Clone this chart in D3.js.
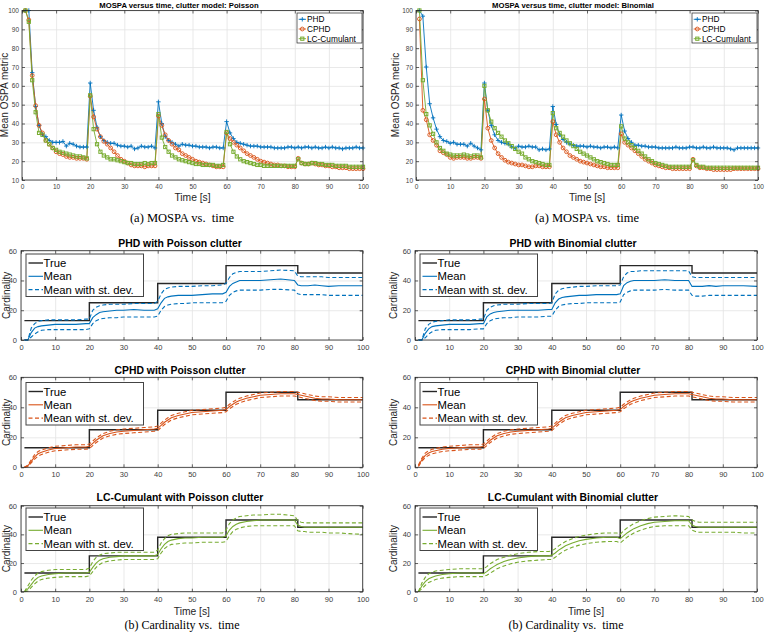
<!DOCTYPE html>
<html><head><meta charset="utf-8">
<script src="https://cdn.jsdelivr.net/npm/d3@7"></script>
<style>
html,body{margin:0;padding:0;background:#fff;}
svg{display:block;font-family:"Liberation Sans",Arial,Helvetica,sans-serif;}
</style></head><body>
<svg id="chart" width="768" height="632"></svg>
<script>
// ---------------- DATA ----------------
const mospaTime = d3.range(1, 101);
const mospaXTicks = [0,10,20,30,40,50,60,70,80,90,100];
const mospaYTicks = [10,20,30,40,50,60,70,80,90,100];
const mospaLegend = ["PHD","CPHD","LC-Cumulant"];

const mospaPoissonPHD = [
100,100,67,49,39,34,33,31,30,30,
30,30.5,28,29.5,29,28,27.5,27.5,27.5,61.5,
47,38,33,31,30,29.5,29.5,28.5,28,28,
27.5,28,26.5,27,28,27.5,27.5,28,27,51.5,
40,33,31,30,29,28,29,28.5,28.5,28,
28,27.5,27.5,27.5,27,27.5,27.5,27,27,41,
35,32,30,29.5,29,28.5,28,28,28,27.5,
27.5,27.5,27.5,27,27,27,27,27.5,27.5,27,
27.5,27,27.5,27.5,27,27.5,27,27,27.5,27,
27.5,27,27,26.5,27,27,27,27.5,27,27];
const mospaPoissonCPHD = [
100,95,65.5,49.5,39,35,31,29,27,25,
24,23.5,22.5,22,22,21.5,21.5,21.5,21,54.5,
43.5,37,33,30.5,29,27,25,23,21,20,
19,18,17.5,17.5,17.5,17,17.5,17.5,17.5,44,
39,34,31,29,27,26,24,23,22,21,
20,19.5,19,18.5,18,17.5,17,17,17,35,
32,30,28.5,27,25.5,24,23,22,21,20,
19.5,19,18.5,18,18,17.5,17.5,17,17,17,
21.5,19,18.5,18.5,19,18.5,18,18,17.5,17.5,
17,17,16.5,16.5,16.5,16,16,16,16,16];
const mospaPoissonLC = [
100,94,63,46,35,34,31,29,27,26,
25,24.5,24,23.5,23,22.5,22.5,22,21.5,55,
37,29,25,23,22,21,21,20.5,20,19.5,
19,19,18.5,18.5,18.5,19,18.5,19,19,45,
32.5,27.5,25,23,22,21,20.5,20,19.5,19,
18.5,18.5,18,18,18,18,17.5,17.5,18,35.5,
29,25,22.5,21,20,19.5,19,18.5,18,18,
17.5,17.5,17.5,17.5,17.5,17.5,17.5,17.5,17.5,17.5,
21,19,18.5,18.5,19,19,18.5,18.5,18,18,
18,17.5,17.5,17.5,17.5,17,17,17,17,17];
const mospaBinomialPHD = [
100,97,70,50.5,43,37,33,31,30.5,29.5,
30,29,29,29,28,29.5,28,27,26,61.5,
47,39,34,31,30,29.5,29,27.5,27,28,
27.5,27.5,28,27.5,27.5,26,26.5,26,26.5,49,
39.5,34,31.5,30,29,28.5,28,28,28,27.5,
28,27.5,27.5,27,27.5,27.5,27,27.5,27,44.5,
36,32,30,28.5,28.5,28,28,27.5,27.5,27.5,
27,27,27,27,27,27.5,27,27,27,27.5,
27.5,27,27,27.5,27,27,27.5,27,27,27,
27,26.5,26,27,27,27,27,27,27,27];
const mospaBinomialCPHD = [
95.5,47,42,34,31,28.5,25.5,24.5,23.5,22,
21.5,22,22,22,21.5,21.5,22,22,21.5,53,
37.5,31,27,24,22,20.5,19.5,19,18.5,18,
18,17.5,17,17,17.5,17.5,17,17,17,41,
34,30,27,25,23,22,21,20,19.5,19,
18.5,18,17.5,17,17,16.5,16.5,16.5,16.5,34.5,
30,28.5,27,25.5,24,22.5,21,20,19,18,
17.5,17,16.5,16.5,16,16,16,16,16,16,
21,17.5,16.5,16.5,16,16,15.5,15.5,15.5,15.5,
15.5,15.5,16,16,16,16,16,16,16,16];
const mospaBinomialLC = [
100,63,45,39,34.5,30,27,25.5,24,23.5,
23,23,23,23.5,23,22.5,23,23,22,60,
47,41,37.5,35,33,31,29.5,28,26.5,25,
24,22,21,20,19.5,19,18.5,18,18,45.5,
37.5,35,33,31,29.5,28,26.5,25,24,23,
22,21,20,19.5,19,18.5,18,18,18,38.5,
32,30,28.5,27,25.5,24,22.5,21,20,19,
18.5,18,17.5,17,17,17,17,17,17,17,
20.5,18,17,17,16.5,16.5,16.5,16.5,16.5,16.5,
16.5,16.5,16.5,16.5,16.5,16.5,16.5,16.5,16.5,16.5];

const cardTime = [1,2,3,4,5,6,8,10,13,16,19, 20,21,22,23,24,26,28,30,33,36,39,
  40,41,42,43,44,46,48,50,53,56,59, 60,61,62,63,64,66,68,70,73,76,80,
  81,82,83,84,86,88,90,93,96,100];
const cardXTicks = [0,10,20,30,40,50,60,70,80,90,100];
const cardYTicks = [0,20,40,60];
const cardLegend = ["True","Mean","Mean with st. dev."];
const trueTime = [1,20,40,60,81,100];
const trueCard = [13,25,38,50,45,45];

const phdPoissonMean = [0,0,5,8,9,9.5,10,10.5,10.5,10.5,11, 11,15,17,18.5,19,19.5,20,20,20.5,20,20,
  21,25,28,29,29.5,30,30,30,30.5,31,31, 32,36,38,39,40,40,40,40,40.5,41,40,
  37,36.5,36.5,36.5,37,36.5,36,36.5,36.5,36.5];
const phdPoissonUpper = [0,0,8,11,12.5,13,13.5,13.5,13.5,13.5,14, 14,20,22,23,23.5,24,24,24,24.5,24.5,24.5,
  26,31,34,35,35.5,36,36,36,36.5,36.5,37, 38,42,44.5,45.5,46,46,46,46,46.5,47,46.5,
  43,42.5,42.5,42.5,42.5,42.5,42,42,42,42];
const phdPoissonLower = [0,0,2,4,5.5,6.5,7,7,7,7,7, 7.5,11,13,14,14.5,15,15,15.5,15.5,15.5,15.5,
  16,20,22.5,23.5,24,24.5,24.5,25,25,25,25, 26,30,32,33,33.5,33.5,33.5,33.5,34,34,33.5,
  31,30.5,30.5,30.5,30.5,30.5,30,30,30,30];

const phdBinomialMean = [0,0,4.5,7.5,9,9.5,10,10.5,10.5,10.5,11, 11,15.5,17.5,18.5,19,19.5,20,20,20,20,20.5,
  20.5,25,27.5,28.5,29,29.5,30,30,30.5,30.5,30.5, 31,36.5,38.5,39.5,40,40,40,40,40.5,40,40,
  36,36,36,36,36.5,36,36.5,36.5,36.5,36];
const phdBinomialUpper = [0,0,7.5,10.5,12,12.5,13,13.5,13.5,13.5,14, 14,20,22,23,23.5,24,24,24,24.5,24.5,24.5,
  25,31,33.5,34.5,35,35.5,36,36,36.5,36.5,36.5, 37,42.5,45,46,46,46.5,46.5,46.5,46.5,46.5,46.5,
  42.5,42,42,42,42,42,42,42,42,42];
const phdBinomialLower = [0,0,1.5,4,5.5,6.5,7,7,7,7,7.5, 7.5,11,13,14,14.5,15,15,15.5,15.5,15.5,16,
  16,20,22.5,23.5,24,24.5,24.5,25,25,25,25, 25.5,30.5,32,33,33.5,33.5,33.5,33.5,34,33.5,33.5,
  30,29.5,29.5,29.5,30,30,30,30,30,30];

const cphdPoissonMean = [0,1,4,7,9,10,11.5,12.5,13,13.5,13.5, 14,16,18,19.5,21,22.5,23.5,24,24.5,25,25.5,
  26,28,30,31.5,33,34.5,35.5,36.5,37,37.5,38, 38.5,40.5,42,43.5,44.5,46,47,48,48.5,49,49,
  48.5,48,47.5,47,46,45.5,45.5,45,45,45];
const cphdPoissonUpper = [0,1.5,5,8.5,10.5,11.5,13,14,14.5,15,15, 15.5,17.5,19.5,21,22.5,24,25,25.5,26,26.5,27,
  27.5,29.5,31.5,33,34.5,36,37,38,38.5,39,39.5, 40,42,43.5,45,46,47.5,48.5,49.5,50,50.5,50.5,
  50,49.5,49,48.5,47.5,47,47,46.5,46.5,46.5];
const cphdPoissonLower = [0,0.5,3,5.5,7.5,8.5,10,11,11.5,12,12, 12.5,14.5,16.5,18,19.5,21,22,22.5,23,23.5,24,
  24.5,26.5,28.5,30,31.5,33,34,35,35.5,36,36.5, 37,39,40.5,42,43,44.5,45.5,46.5,47,47.5,47.5,
  47,46.5,46,45.5,44.5,44,44,43.5,43.5,43.5];

const cphdBinomialMean = [1,5,8,9.5,10.5,11,12,12.5,13,13.5,13.5, 14,16,18,19.5,21,22.5,23.5,24,24.5,25,25.5,
  26,28,30,31.5,33,34.5,35.5,36.5,37,37.5,38, 38.5,40.5,42,43.5,44.5,46,47,48,48.5,49,49,
  48.5,48,47.5,47,46,45.5,45.5,45,45,45];
const cphdBinomialUpper = [1.5,6,9.5,11,12,12.5,13.5,14,14.5,15,15, 15.5,17.5,19.5,21,22.5,24,25,25.5,26,26.5,27,
  27.5,29.5,31.5,33,34.5,36,37,38,38.5,39,39.5, 40,42,43.5,45,46,47.5,48.5,49.5,50,50.5,50.5,
  50,49.5,49,48.5,47.5,47,47,46.5,46.5,46.5];
const cphdBinomialLower = [0.5,4,6.5,8,9,9.5,10.5,11,11.5,12,12, 12.5,14.5,16.5,18,19.5,21,22,22.5,23,23.5,24,
  24.5,26.5,28.5,30,31.5,33,34,35,35.5,36,36.5, 37,39,40.5,42,43,44.5,45.5,46.5,47,47.5,47.5,
  47,46.5,46,45.5,44.5,44,44,43.5,43.5,43.5];

const lcPoissonMean = [0,2,5,8,10,11,12,12.5,13,13,13, 13.5,17,20,22,23,24,24.5,25,25,25,25,
  26,30,33,35,36,37,37.5,37.5,38,38,38, 39,43,45.5,47,48,49,49.5,50,50,50,50,
  46.5,45.5,45,45,45,45,45,45,45,45];
const lcPoissonUpper = [0,4,8,11,13,14,15,15.5,15.5,15.5,15.5, 16.5,21,24,25.5,26.5,27,27.5,27.5,27.5,27.5,27.5,
  29,34,37,39,40,40.5,41,41,41,41,41, 43,47.5,50,51.5,52.5,53,53.5,53.5,54,54,53,
  49.5,48.5,48,48,48,48,48,48,48,48];
const lcPoissonLower = [0,0.5,3,5.5,7.5,8.5,9.5,10,10.5,10.5,10.5, 11,14,17,19,20.5,21.5,22,22.5,22.5,22.5,22.5,
  23,27,30,32,33,33.5,34,34,34.5,34.5,34.5, 35,39,42,43.5,44.5,45.5,46,46,46,46,46,
  42.5,42,42,41.5,41.5,41.5,41,41,40.5,40];

const lcBinomialMean = [0,4,7,9,10,11,12,12.5,13,13,13, 12.5,14,16,17.5,19,21,22.5,23.5,24.5,25,25,
  25.5,27,29,30.5,32,34,35.5,36.5,37.5,38,38, 37,39,41,42.5,44,46,47.5,48.5,49,49.5,49.5,
  46.5,45.5,45,45,45,45,45,45,45,45];
const lcBinomialUpper = [0,6,10,12.5,13.5,14.5,15,15.5,16,16,16, 16,17.5,19.5,21,22.5,24,25.5,26.5,27.5,28,28,
  28.5,30,32,33.5,35,37,38.5,39.5,40.5,41,41, 40,42.5,44.5,46,47.5,49.5,51,52,52.5,53,52.5,
  50,49,48.5,48.5,48.5,48.5,48.5,48.5,48.5,48.5];
const lcBinomialLower = [0,2,4.5,6.5,7.5,8.5,9.5,10,10.5,10.5,10.5, 10.5,11.5,13,14.5,16,18,19.5,20.5,21.5,22,22.5,
  22.5,24,26,27.5,29,31,32.5,33.5,34.5,35,35, 34,36,38,39.5,41,43,44.5,45.5,46,46,46,
  43,42,41.5,41.5,41.5,41.5,41.5,41.5,41,41];

// ---------------- STYLE ----------------
const COL = {blue:"#0072BD", orange:"#D95319", green:"#77AC30", axis:"#262626",
  grid:"#e3e3e3", tickText:"#404040", trueLine:"#262626"};
const FONT_SERIF = '"Liberation Serif","Times New Roman",Times,serif';
const svg = d3.select("#chart");

function axesPanel(g, x, y, xt, yt) {
  const [x0, x1] = x.range(), [yb, yt0] = y.range();
  const w = x1 - x0, h = yb - yt0;
  const styleGrid = a => { a.select(".domain").remove();
    a.selectAll("line").attr("stroke", COL.grid).attr("stroke-width", 0.8); };
  g.append("g").attr("transform", `translate(0,${yb})`)
    .call(d3.axisBottom(x).tickValues(xt).tickSize(-h).tickFormat("")).call(styleGrid);
  g.append("g").attr("transform", `translate(${x0},0)`)
    .call(d3.axisLeft(y).tickValues(yt).tickSize(-w).tickFormat("")).call(styleGrid);
}
function axesFrame(g, x, y, xt, yt, fs, yPad) {
  const [x0, x1] = x.range(), [yb, yt0] = y.range();
  const styleAx = a => { a.select(".domain").remove();
    a.selectAll("line").attr("stroke", COL.axis).attr("stroke-width", 0.7);
    a.selectAll("text").attr("fill", COL.tickText).attr("font-size", fs)
      .attr("font-family", '"Liberation Sans",Arial,sans-serif'); };
  g.append("g").attr("transform", `translate(0,${yb})`)
    .call(d3.axisBottom(x).tickValues(xt).tickSizeInner(-3).tickSizeOuter(0).tickPadding(4.5)).call(styleAx);
  g.append("g").attr("transform", `translate(0,${yt0})`)
    .call(d3.axisTop(x).tickValues(xt).tickSizeInner(-3).tickSizeOuter(0).tickFormat("")).call(styleAx);
  g.append("g").attr("transform", `translate(${x0},0)`)
    .call(d3.axisLeft(y).tickValues(yt).tickSizeInner(-3).tickSizeOuter(0).tickPadding(yPad)).call(styleAx);
  g.append("g").attr("transform", `translate(${x1},0)`)
    .call(d3.axisRight(y).tickValues(yt).tickSizeInner(-3).tickSizeOuter(0).tickFormat("")).call(styleAx);
  g.append("rect").attr("x", x0).attr("y", yt0).attr("width", x1 - x0).attr("height", yb - yt0)
    .attr("fill", "none").attr("stroke", COL.axis).attr("stroke-width", 0.8);
}

function marker(sel, kind, color) {
  if (kind === "plus") {
    sel.append("path").attr("d", "M-2.2,0H2.2M0,-2.2V2.2").attr("stroke", color).attr("stroke-width", 0.9).attr("fill", "none");
  } else if (kind === "circle") {
    sel.append("circle").attr("r", 1.9).attr("stroke", color).attr("stroke-width", 0.9).attr("fill", "none");
  } else {
    sel.append("rect").attr("x", -1.6).attr("y", -1.6).attr("width", 3.2).attr("height", 3.2)
      .attr("stroke", color).attr("stroke-width", 1).attr("fill", "none");
  }
}

// ---------------- MOSPA PANELS ----------------
const mospaPanels = [
  {title: "MOSPA versus time, clutter model: Poisson", x0: 22, x1: 363, titleX: 179, ylabX: 8, capX: 182,
   series: [mospaPoissonPHD, mospaPoissonCPHD, mospaPoissonLC], legX: 297},
  {title: "MOSPA versus time, clutter model: Binomial", x0: 416, x1: 758, titleX: 573, ylabX: 399, capX: 587,
   series: [mospaBinomialPHD, mospaBinomialCPHD, mospaBinomialLC], legX: 692}
];
const mospaColors = [COL.blue, COL.orange, COL.green];
const mospaMarkers = ["plus", "circle", "square"];

mospaPanels.forEach(p => {
  const g = svg.append("g");
  const x = d3.scaleLinear().domain([0, 100]).range([p.x0, p.x1]);
  const y = d3.scaleLinear().domain([10, 100]).range([180, 10.5]);
  axesPanel(g, x, y, mospaXTicks, mospaYTicks);
  p.series.forEach((s, i) => {
    const line = d3.line().x((d, k) => x(mospaTime[k])).y(d => y(d));
    g.append("path").datum(s).attr("d", line).attr("fill", "none")
      .attr("stroke", mospaColors[i]).attr("stroke-width", 0.9);
  });
  p.series.forEach((s, i) => {
    g.append("g").selectAll("g").data(s).join("g")
      .attr("transform", (d, k) => `translate(${x(mospaTime[k])},${y(d)})`)
      .each(function () { marker(d3.select(this), mospaMarkers[i], mospaColors[i]); });
  });
  axesFrame(g, x, y, mospaXTicks, mospaYTicks, 6.5, 3);
  g.append("text").attr("x", p.titleX).attr("y", 8).attr("text-anchor", "middle")
    .attr("font-weight", "bold").attr("font-size", 7.7).attr("fill", "#000").text(p.title);
  g.append("text").attr("x", (p.x0 + p.x1) / 2).attr("y", 201).attr("text-anchor", "middle")
    .attr("font-size", 10.3).attr("fill", COL.axis).text("Time [s]");
  g.append("text").attr("transform", `translate(${p.ylabX},95) rotate(-90)`).attr("text-anchor", "middle")
    .attr("font-size", 10).attr("fill", COL.axis).text("Mean OSPA metric");
  // legend
  const lg = g.append("g").attr("transform", `translate(${p.legX},13)`);
  lg.append("rect").attr("width", 65).attr("height", 30).attr("fill", "#fff")
    .attr("stroke", COL.axis).attr("stroke-width", 0.7);
  mospaLegend.forEach((name, i) => {
    const row = lg.append("g").attr("transform", `translate(0,${6.3 + i * 9.7})`);
    row.append("line").attr("x1", 1.7).attr("x2", 9).attr("stroke", mospaColors[i]).attr("stroke-width", 0.9);
    marker(row.append("g").attr("transform", "translate(5.3,0)"), mospaMarkers[i], mospaColors[i]);
    row.append("text").attr("x", 10).attr("y", 3).attr("font-size", 8.3).attr("fill", "#000").text(name);
  });
  svg.append("text").attr("x", p.capX).attr("y", 222).attr("text-anchor", "middle")
    .attr("font-family", FONT_SERIF).attr("font-size", 12.5).attr("fill", "#000").text("(a) MOSPA vs.\u00a0 time");
});

// ---------------- CARDINALITY PANELS ----------------
const rows = [
  {yTop: 250.7, yBot: 340, titleY: 246.5, filt: "PHD", color: COL.blue,
   left: [phdPoissonMean, phdPoissonUpper, phdPoissonLower], right: [phdBinomialMean, phdBinomialUpper, phdBinomialLower], legY: 254},
  {yTop: 377.3, yBot: 467.3, titleY: 374, filt: "CPHD", color: COL.orange,
   left: [cphdPoissonMean, cphdPoissonUpper, cphdPoissonLower], right: [cphdBinomialMean, cphdBinomialUpper, cphdBinomialLower], legY: 382.5},
  {yTop: 505.7, yBot: 591.7, titleY: 501, filt: "LC-Cumulant", color: COL.green,
   left: [lcPoissonMean, lcPoissonUpper, lcPoissonLower], right: [lcBinomialMean, lcBinomialUpper, lcBinomialLower], legY: 508, xlabel: true}
];
const cols = [
  {x0: 21, x1: 362.7, clutter: "Poisson", key: "left", titleX: 180, ylabX: 10, legX: 26, capX: 182},
  {x0: 415, x1: 757, clutter: "Binomial", key: "right", titleX: 573, ylabX: 397, legX: 420, capX: 566}
];

rows.forEach(r => cols.forEach(c => {
  const g = svg.append("g");
  const x = d3.scaleLinear().domain([0, 100]).range([c.x0, c.x1]);
  const y = d3.scaleLinear().domain([0, 60]).range([r.yBot, r.yTop]);
  axesPanel(g, x, y, cardXTicks, cardYTicks);
  const [mean, up, lo] = r[c.key];
  const line = d3.line().x((d, k) => x(cardTime[k])).y(d => y(d));
  g.append("path").datum(trueCard)
    .attr("d", d3.line().curve(d3.curveStepAfter).x((d, k) => x(trueTime[k])).y(d => y(d)))
    .attr("fill", "none").attr("stroke", COL.trueLine).attr("stroke-width", 1.4);
  [up, lo].forEach(s => g.append("path").datum(s).attr("d", line).attr("fill", "none")
    .attr("stroke", r.color).attr("stroke-width", 1.1).attr("stroke-dasharray", "4,2.5"));
  g.append("path").datum(mean).attr("d", line).attr("fill", "none")
    .attr("stroke", r.color).attr("stroke-width", 1.1);
  axesFrame(g, x, y, cardXTicks, cardYTicks, 7.5, 4);
  g.append("text").attr("x", c.titleX).attr("y", r.titleY).attr("text-anchor", "middle")
    .attr("font-weight", "bold").attr("font-size", 10.4).attr("fill", "#000")
    .text(`${r.filt} with ${c.clutter} clutter`);
  g.append("text").attr("transform", `translate(${c.ylabX},${(r.yTop + r.yBot) / 2}) rotate(-90)`)
    .attr("text-anchor", "middle").attr("font-size", 10).attr("fill", COL.axis).text("Cardinality");
  if (r.xlabel) {
    g.append("text").attr("x", (c.x0 + c.x1) / 2).attr("y", 614.5).attr("text-anchor", "middle")
      .attr("font-size", 10.3).attr("fill", COL.axis).text("Time [s]");
    svg.append("text").attr("x", c.capX).attr("y", 628.5).attr("text-anchor", "middle")
      .attr("font-family", FONT_SERIF).attr("font-size", 12).attr("fill", "#000")
      .text("(b) Cardinality vs.\u00a0 time");
  }
  // legend
  const lg = g.append("g").attr("transform", `translate(${c.legX},${r.legY})`);
  lg.append("rect").attr("width", 117.5).attr("height", 42.5).attr("fill", "#fff")
    .attr("stroke", "#444").attr("stroke-width", 1);
  const legStyles = [
    {color: COL.trueLine, w: 1.4, dash: null},
    {color: r.color, w: 1.1, dash: null},
    {color: r.color, w: 1.1, dash: "4,2.5"}];
  cardLegend.forEach((name, i) => {
    const row = lg.append("g").attr("transform", `translate(0,${9 + i * 13.3})`);
    row.append("line").attr("x1", 2.5).attr("x2", 17).attr("stroke", legStyles[i].color)
      .attr("stroke-width", legStyles[i].w).attr("stroke-dasharray", legStyles[i].dash);
    row.append("text").attr("x", 17.5).attr("y", 4).attr("font-size", 11.3).attr("fill", "#000").text(name);
  });
}));
</script>
</body></html>
